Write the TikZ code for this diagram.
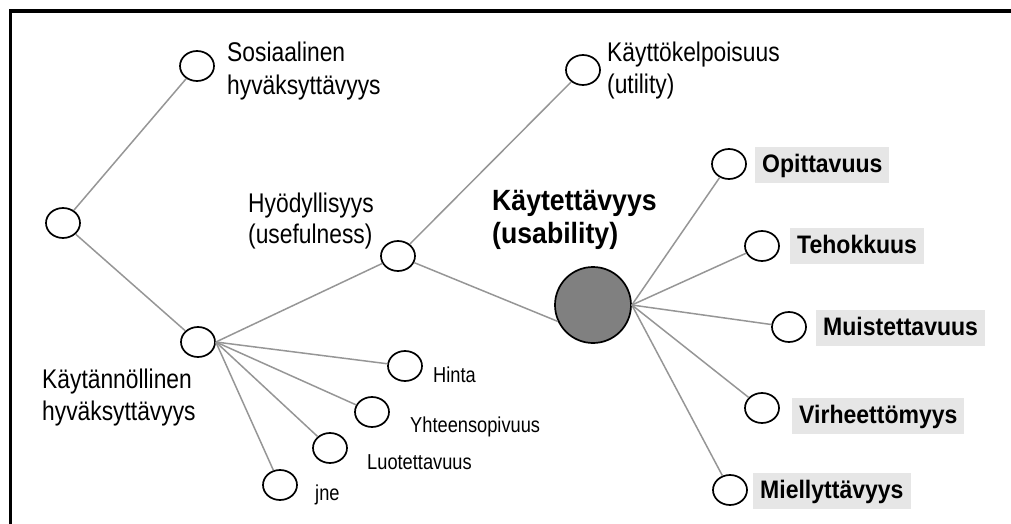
\documentclass[tikz,border=0pt]{standalone}
\usepackage{fontspec}
\setmainfont{Liberation Sans}[FakeStretch=0.91]
\newfontfamily\narrowfont{Liberation Sans}[FakeStretch=0.845]
\usetikzlibrary{shapes.geometric}
\definecolor{linegray}{RGB}{150,150,150}
\definecolor{boxgray}{RGB}{230,230,230}
\definecolor{bigfill}{RGB}{128,128,128}
\begin{document}
\begin{tikzpicture}[x=1pt,y=-1pt,
  dot/.style={ellipse,draw=black,line width=1.7pt,minimum width=34pt,minimum height=30pt,inner sep=0pt,fill=white},
  bigdot/.style={circle,draw=black,line width=1.7pt,minimum size=76pt,inner sep=0pt,fill=bigfill},
  conn/.style={draw=linegray,line width=1.5pt},
  lbl/.style={anchor=base west,inner sep=0pt,align=left,font=\narrowfont\fontsize{27}{32}\selectfont},
  title/.style={anchor=base west,inner sep=0pt,align=left,font=\fontsize{29.3}{33}\selectfont\bfseries},
  small/.style={anchor=base west,inner sep=0pt,font=\narrowfont\fontsize{21.6}{24}\selectfont},
  boxlbl/.style={anchor=north west,fill=boxgray,inner xsep=7pt,inner ysep=6pt,text height=19pt,text depth=4.5pt,font=\fontsize{25.3}{30}\selectfont\bfseries},
]
\useasboundingbox (0,0) rectangle (1011,524);
% frame (top and left only)
\draw[line width=3.5pt,line cap=rect] (10.5,524) -- (10.5,11) -- (1011,11);

% nodes
\node[dot] (root) at (63,223) {};
\node[dot] (sos) at (197,66) {};
\node[dot] (kay) at (198,342) {};
\node[dot] (hyo) at (398,256) {};
\node[dot] (util) at (583,70) {};
\node[bigdot] (big) at (593,305) {};
\node[dot] (hin) at (405,366) {};
\node[dot] (yht) at (372,412) {};
\node[dot] (luo) at (330,448) {};
\node[dot] (jne) at (280,485) {};
\node[dot] (opi) at (729,164) {};
\node[dot] (teh) at (762,246) {};
\node[dot] (mui) at (789,327) {};
\node[dot] (vir) at (762,408) {};
\node[dot] (mie) at (730,490) {};

% connectors
\draw[conn] (root) -- (sos);
\draw[conn] (root) -- (kay);
\draw[conn] (kay.east) -- (hyo);
\draw[conn] (kay.east) -- (hin);
\draw[conn] (kay.east) -- (yht);
\draw[conn] (kay.east) -- (luo);
\draw[conn] (kay.east) -- (jne);
\draw[conn] (hyo) -- (util);
\draw[conn] (hyo) -- (big.205);
\draw[conn] (big.east) -- (opi);
\draw[conn] (big.east) -- (teh);
\draw[conn] (big.east) -- (mui);
\draw[conn] (big.east) -- (vir);
\draw[conn] (big.east) -- (mie);

% labels (base anchor = baseline of the last line)
\node[lbl,font=\narrowfont\fontsize{27}{33}\selectfont] (sosL) at (227,95) {Sosiaalinen\\hyväksyttävyys};
\node[lbl] (utilL) at (607,94) {Käyttökelpoisuus\\(utility)};
\node[lbl,font=\narrowfont\fontsize{27}{31}\selectfont] (hyoL) at (248,243) {Hyödyllisyys\\(usefulness)};
\node[title] (titleL) at (492,243) {Käytettävyys\\(usability)};
\node[lbl] (kayL) at (42,420) {Käytännöllinen\\hyväksyttävyys};
\node[small] (hinL) at (433,382) {Hinta};
\node[small] (yhtL) at (410,432) {Yhteensopivuus};
\node[small] (luoL) at (367,469) {Luotettavuus};
\node[small] (jneL) at (315,500) {jne};

\node[boxlbl] (opiL) at (755,147) {Opittavuus};
\node[boxlbl] (tehL) at (790,228) {Tehokkuus};
\node[boxlbl] (muiL) at (816,310) {Muistettavuus};
\node[boxlbl] (virL) at (792,398) {Virheettömyys};
\node[boxlbl] (mieL) at (753,473) {Miellyttävyys};
\end{tikzpicture}
\end{document}
